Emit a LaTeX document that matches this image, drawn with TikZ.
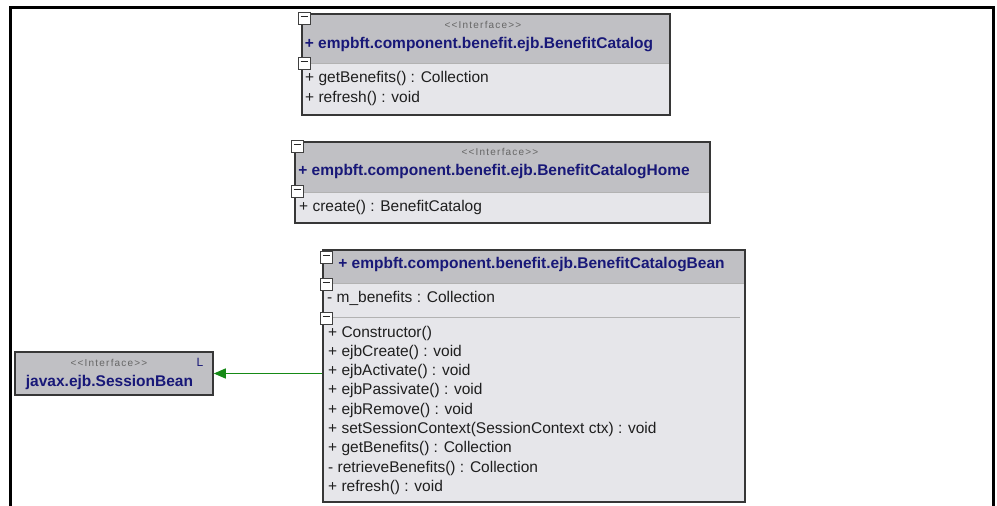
\documentclass[tikz,border=0pt]{standalone}
\usepackage{fontspec}
\setmainfont{Liberation Sans}
\newfontfamily\stereofont[LetterSpace=12]{Liberation Sans}
\usetikzlibrary{arrows.meta}

\definecolor{headgray}{RGB}{192,192,196}
\definecolor{bodygray}{RGB}{230,230,234}
\definecolor{namecol}{RGB}{24,24,120}
\definecolor{linkgreen}{RGB}{22,138,22}
\definecolor{edgegray}{RGB}{55,55,55}

\tikzset{
  classbox/.style={draw=edgegray, line width=1.5pt, fill=bodygray, inner sep=0pt},
  stereo/.style={font=\stereofont\fontsize{10}{10}\selectfont, text=black!60, inner sep=0pt},
  classname/.style={font=\bfseries\fontsize{15.5}{15.5}\selectfont, text=namecol, inner sep=0pt},
  member/.style={font=\fontsize{15.5}{15.5}\selectfont, text=black!88, anchor=west, inner sep=0pt},
  realize/.style={draw=linkgreen, line width=1.2pt, -{Triangle[length=12pt,width=10pt]}}
}

\newcommand{\foldmark}[2]{%
  \draw[fill=white, draw=black!75, line width=0.8pt] (#1,#2) rectangle ++(12,12);
  \draw[black!85, line width=1pt] (#1+2.5,#2+4) -- ++(7,0);}

\begin{document}
\begin{tikzpicture}[x=1pt,y=-1pt]
  \useasboundingbox (0,0) rectangle (997,506);
  \draw[line width=3pt] (10.5,506) -- (10.5,7.5) -- (993,7.5) -- (993,506);

  \node[classbox, minimum width=368, minimum height=101] (catalog) at (486,64.5) {};
  \fill[headgray] (302.75,14.75) rectangle (669.25,63);
  \draw[black!30] (302.75,63) -- (669.25,63);
  \node[stereo] (catalogst) at (483,25) {<<Interface>>};
  \node[classname] (catalogname) at (479,45) {+ empbft.component.benefit.ejb.BenefitCatalog};
  \node[member] (catalogop1) at (305,78) {+ getBenefits() : Collection};
  \node[member] (catalogop2) at (305,98) {+ refresh() : void};
  \foldmark{298}{12}
  \foldmark{298}{57}

  \node[classbox, minimum width=415, minimum height=81] (home) at (502.5,182.5) {};
  \fill[headgray] (295.75,142.75) rectangle (709.25,192);
  \draw[black!30] (295.75,192) -- (709.25,192);
  \node[stereo] (homest) at (500,152) {<<Interface>>};
  \node[classname] (homename) at (494,172) {+ empbft.component.benefit.ejb.BenefitCatalogHome};
  \node[member] (homeop1) at (299,207) {+ create() : BenefitCatalog};
  \foldmark{291}{140}
  \foldmark{291}{185}

  \node[classbox, minimum width=422, minimum height=252] (bean) at (534,376) {};
  \fill[headgray] (323.75,250.75) rectangle (744.25,283);
  \draw[black!30] (323.75,283) -- (744.25,283);
  \draw[black!30] (330,317) -- (740,317);
  \node[classname] (beanname) at (531.5,265) {+ empbft.component.benefit.ejb.BenefitCatalogBean};
  \node[member] (beanattr) at (327,298) {- m\_benefits : Collection};
  \foreach \txt [count=\i from 0] in {+ Constructor(), + ejbCreate() : void,
      + ejbActivate() : void, + ejbPassivate() : void, + ejbRemove() : void,
      + setSessionContext(SessionContext ctx) : void, + getBenefits() : Collection,
      - retrieveBenefits() : Collection, + refresh() : void}
    \node[member] (beanop\i) at (328,333+\i*19.3) {\txt};
  \foldmark{320}{251}
  \foldmark{320}{278}
  \foldmark{320}{312}

  \node[classbox, fill=headgray, minimum width=198, minimum height=43] (session) at (114,373.5) {};
  \node[stereo] (sessionst) at (109,363) {<<Interface>>};
  \node[classname] (sessionname) at (109.5,382) {javax.ejb.SessionBean};
  \node[classname, font=\fontsize{12}{12}\selectfont] (sessionflag) at (200,362) {L};

  \draw[realize] (bean.west |- session.east) -- (session.east);
\end{tikzpicture}
\end{document}
